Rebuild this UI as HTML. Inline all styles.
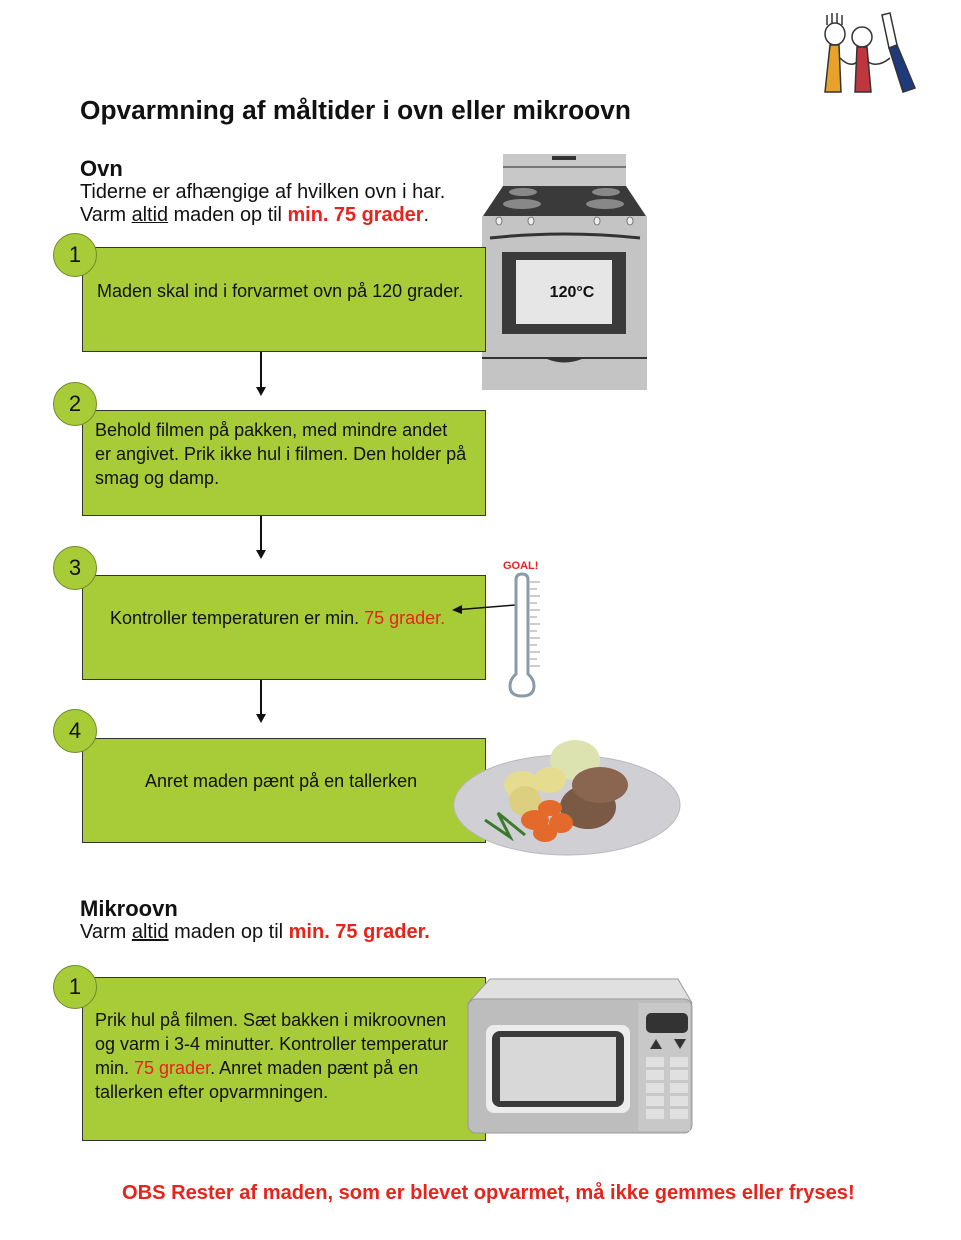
<!DOCTYPE html>
<html><head><meta charset="utf-8"><style>
body{margin:0;width:961px;height:1240px;background:#fff;position:relative;font-family:"Liberation Sans",sans-serif;overflow:hidden}
.a{position:absolute}
.box{position:absolute;left:82px;width:404px;background:#a8cb38;border:1.5px solid #333;box-sizing:border-box}
.c{position:absolute;width:44px;height:44px;border-radius:50%;background:#a8cb38;border:1.5px solid #6f8a2a;box-sizing:border-box;font-size:22px;text-align:center;line-height:42px;color:#111;left:53px}
.t{position:absolute;font-size:18px;line-height:24px;color:#111;white-space:nowrap}
.r{color:#e8231c}
.ar{position:absolute;left:260px;width:1.5px;background:#111}
.ah{position:absolute;left:256px;width:0;height:0;border-left:5px solid transparent;border-right:5px solid transparent;border-top:9px solid #111}
</style></head><body>
<!-- logo -->
<svg class="a" style="left:815px;top:10px" width="110" height="90" viewBox="0 0 110 90">
<g stroke="#333" stroke-width="1.5" fill="none">
<path d="M12 15 L12 5 M17 15 L17 3 M22 15 L22 3 M27 15 L27 5"/>
<ellipse cx="20" cy="24" rx="10" ry="11" fill="#fff"/>
<path d="M15 35 L10 82 L26 82 L24 35 Z" fill="#e8a22a"/>
<circle cx="47" cy="27" r="10" fill="#fff"/>
<path d="M42 37 L40 82 L56 82 L52 37 Z" fill="#c0363f"/>
<path d="M67 5 L75 3 L82 35 L74 38 Z" fill="#fff"/>
<path d="M74 38 L82 35 L100 78 L88 82 Z" fill="#1e3a7a"/>
<path d="M25 48 Q35 58 42 52 M53 52 Q63 58 75 48"/>
</g></svg>
<div class="a" style="left:80px;top:95px;font-size:26.3px;font-weight:bold;color:#111;white-space:nowrap">Opvarmning af måltider i ovn eller mikroovn</div>
<div class="a" style="left:80px;top:156px;font-size:22px;font-weight:bold;color:#111">Ovn</div>
<div class="a" style="left:80px;top:181px;font-size:19.9px;line-height:23px;color:#111;white-space:nowrap">Tiderne er afhængige af hvilken ovn i har.<br>Varm <u>altid</u> maden op til <b class="r">min. 75 grader</b>.</div>

<!-- oven -->
<svg class="a" style="left:482px;top:154px" width="166" height="238" viewBox="0 0 166 238">
<rect x="21" y="0" width="123" height="32" fill="#c8c8c8"/>
<rect x="70" y="2" width="24" height="4" fill="#333"/>
<rect x="21" y="12" width="123" height="2" fill="#777"/>
<path d="M21 32 L144 32 L164 62 L1 62 Z" fill="#3a3a3a"/>
<ellipse cx="41" cy="38" rx="14" ry="4" fill="#888"/><ellipse cx="124" cy="38" rx="14" ry="4" fill="#888"/>
<ellipse cx="40" cy="50" rx="19" ry="5" fill="#888"/><ellipse cx="123" cy="50" rx="19" ry="5" fill="#888"/>
<rect x="0" y="62" width="165" height="174" fill="#c4c4c4"/>
<g fill="#eee" stroke="#777"><ellipse cx="17" cy="67" rx="3" ry="4"/><ellipse cx="49" cy="67" rx="3" ry="4"/><ellipse cx="115" cy="67" rx="3" ry="4"/><ellipse cx="148" cy="67" rx="3" ry="4"/></g>
<path d="M8 84 Q82 76 158 84" stroke="#333" stroke-width="3" fill="none"/>
<rect x="20" y="98" width="124" height="82" fill="#3a3a3a"/>
<rect x="34" y="106" width="96" height="64" fill="#e6e6e6"/>
<text x="90" y="143" font-family="Liberation Sans" font-size="16" font-weight="bold" text-anchor="middle" fill="#111">120°C</text>
<rect x="0" y="203" width="165" height="2" fill="#333"/>
<path d="M65 205 Q82 212 100 205" fill="#333"/>
</svg>

<div class="box" style="top:247px;height:105px"></div>
<div class="c" style="top:233px">1</div>
<div class="t" style="left:97px;top:279px">Maden skal ind i forvarmet ovn på 120 grader.</div>
<div class="ar" style="top:352px;height:36px"></div><div class="ah" style="top:387px"></div>

<div class="box" style="top:410px;height:106px"></div>
<div class="c" style="top:382px">2</div>
<div class="t" style="left:95px;top:418px">Behold filmen på pakken, med mindre andet<br>er angivet. Prik ikke hul i filmen. Den holder på<br>smag og damp.</div>
<div class="ar" style="top:516px;height:34px"></div><div class="ah" style="top:550px"></div>

<div class="box" style="top:575px;height:105px"></div>
<div class="c" style="top:546px">3</div>
<div class="t" style="left:110px;top:606px">Kontroller temperaturen er min. <span class="r">75 grader.</span></div>
<div class="ar" style="top:680px;height:34px"></div><div class="ah" style="top:714px"></div>

<!-- thermometer -->
<div class="a" style="left:503px;top:560px;font-size:11px;font-weight:bold;color:#e8231c">GOAL!</div>
<svg class="a" style="left:450px;top:572px" width="100" height="128" viewBox="0 0 100 128">
<path d="M65 33 L4 38" stroke="#111" stroke-width="1.5"/><path d="M2 38 L12 33 L12 42 Z" fill="#111"/>
<path d="M66 8 Q66 2 72 2 Q78 2 78 8 L78 102 Q84 107 84 114 Q84 124 72 124 Q60 124 60 114 Q60 107 66 102 Z" fill="#fff" stroke="#8a9aa8" stroke-width="3"/>
<g stroke="#999" stroke-width="1"><path d="M80 10H90M80 17H87M80 24H90M80 31H87M80 38H90M80 45H87M80 52H90M80 59H87M80 66H90M80 73H87M80 80H90M80 87H87M80 94H90"/></g>
</svg>

<div class="box" style="top:738px;height:105px"></div>
<div class="c" style="top:709px">4</div>
<div class="t" style="left:145px;top:769px">Anret maden pænt på en tallerken</div>

<!-- plate -->
<svg class="a" style="left:450px;top:735px" width="235" height="125" viewBox="0 0 235 125">
<ellipse cx="117" cy="70" rx="113" ry="50" fill="#cfcfd4" stroke="#b8b8bd"/>
<ellipse cx="125" cy="25" rx="25" ry="20" fill="#dce3b0"/>
<ellipse cx="72" cy="50" rx="18" ry="14" fill="#e6dc90"/><ellipse cx="100" cy="45" rx="16" ry="13" fill="#e6dc90"/><ellipse cx="75" cy="66" rx="16" ry="15" fill="#dcd080"/>
<ellipse cx="138" cy="72" rx="28" ry="22" fill="#7a5a45"/><ellipse cx="150" cy="50" rx="28" ry="18" fill="#8a6550"/>
<g fill="#e36a2a"><ellipse cx="85" cy="85" rx="14" ry="10"/><ellipse cx="100" cy="73" rx="12" ry="8"/><ellipse cx="111" cy="88" rx="12" ry="10"/><ellipse cx="95" cy="98" rx="12" ry="9"/></g>
<path d="M35 85 L60 102 L48 78 L75 100" stroke="#3a7a2a" stroke-width="3" fill="none"/>
</svg>

<div class="a" style="left:80px;top:896px;font-size:22px;font-weight:bold;color:#111">Mikroovn</div>
<div class="a" style="left:80px;top:921px;font-size:20px;color:#111;white-space:nowrap">Varm <u>altid</u> maden op til <b class="r">min. 75 grader.</b></div>

<div class="box" style="top:977px;height:164px"></div>
<div class="c" style="top:965px">1</div>
<div class="t" style="left:95px;top:1008px">Prik hul på filmen. Sæt bakken i mikroovnen<br>og varm i 3-4 minutter. Kontroller temperatur<br>min. <span class="r">75 grader</span>. Anret maden pænt på en<br>tallerken efter opvarmningen.</div>

<!-- microwave -->
<svg class="a" style="left:466px;top:977px" width="228" height="158" viewBox="0 0 228 158">
<path d="M24 2 L212 2 L226 26 L2 26 Z" fill="#e0e0e0" stroke="#999"/>
<rect x="2" y="22" width="224" height="134" rx="8" fill="#bdbdbd" stroke="#999"/>
<rect x="172" y="26" width="52" height="128" fill="#c8c8c8"/>
<rect x="20" y="48" width="144" height="88" rx="8" fill="#ececec"/>
<rect x="26" y="54" width="132" height="76" rx="8" fill="#3a3a3a"/>
<rect x="34" y="60" width="116" height="64" fill="#d8d8d8"/>
<rect x="180" y="36" width="42" height="20" rx="5" fill="#333"/>
<path d="M184 72 L190 62 L196 72 Z M208 62 L220 62 L214 72 Z" fill="#333"/>
<g fill="#e0e0e0"><rect x="180" y="80" width="18" height="10"/><rect x="204" y="80" width="18" height="10"/><rect x="180" y="93" width="18" height="10"/><rect x="204" y="93" width="18" height="10"/><rect x="180" y="106" width="18" height="10"/><rect x="204" y="106" width="18" height="10"/><rect x="180" y="119" width="18" height="10"/><rect x="204" y="119" width="18" height="10"/><rect x="180" y="132" width="18" height="10"/><rect x="204" y="132" width="18" height="10"/></g>
</svg>

<div class="a" style="left:122px;top:1182px;font-size:20.1px;font-weight:bold;color:#e8231c;white-space:nowrap">OBS Rester af maden, som er blevet opvarmet, må ikke gemmes eller fryses!</div>
</body></html>
